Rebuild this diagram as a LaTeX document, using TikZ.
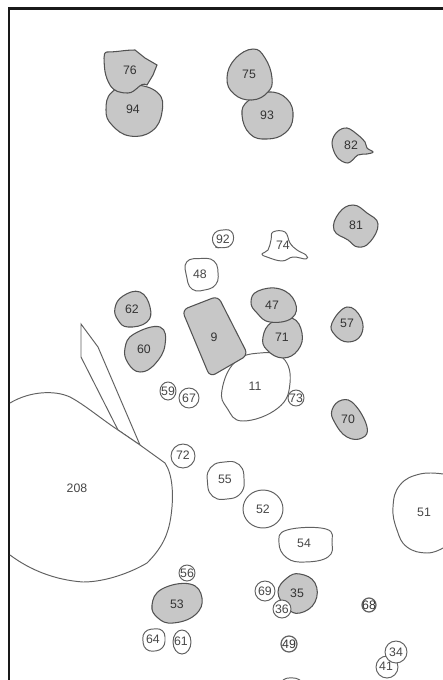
\documentclass[tikz,border=0pt]{standalone}
\usepackage{fontspec}
\setmainfont{Liberation Sans}

\begin{document}
\begin{tikzpicture}[
  x=0.02cm, y=-0.02cm,
  font=\fontsize{7}{8}\selectfont,
  shaded/.style={draw=black!68, fill=black!22, line width=0.6pt},
  plainblob/.style={draw=black!62, fill=white, line width=0.55pt},
  num/.style={inner sep=0pt, text=black!72},
  numdark/.style={inner sep=0pt, text=black!80}
]
\useasboundingbox (0,0) rectangle (443,680);

% frame, open to the right and below
\draw[line width=1.7pt, black!90] (9,680) -- (9,8.5) -- (443,8.5);

% top row of grey patches
\draw[shaded] plot[smooth cycle, tension=.75] coordinates {(134,85) (158,93) (162,112) (152,131) (130,136) (112,125) (106,110) (112,92)};
\draw[shaded] (107,52) to[out=0,in=180] (135,50) -- (145,58) -- (157,65) -- (153,75) -- (147,85) to[out=150,in=0] (128,93) to[out=180,in=-60] (110,85) to[out=120,in=-88] (104,58) to[out=90,in=180] (107,52) -- cycle;
\draw[shaded] plot[smooth cycle, tension=.75] coordinates {(268,92) (287,99) (293,117) (285,133) (267,139) (250,134) (242,115) (248,101)};
\draw[shaded] plot[smooth cycle, tension=.75] coordinates {(253,49) (265,58) (272,78) (268,92) (252,100) (234,94) (227,78) (235,59)};
\draw[shaded] plot[smooth cycle, tension=.6] coordinates {(332,143) (337,132) (347,128) (358,135) (365,142) (367,148) (373,152) (367,154) (358,155) (348,163) (337,157)};
\draw[shaded] plot[smooth cycle, tension=.75] coordinates {(353,205) (367,213) (378,224) (370,242) (358,247) (348,240) (334,230) (339,213)};

\node[numdark] (n76) at (130,70) {76};
\node[numdark] (n94) at (133,109) {94};
\node[numdark] (n75) at (249,74) {75};
\node[numdark] (n93) at (267,115) {93};
\node[numdark] (n82) at (351,145) {82};
\node[numdark] (n81) at (356,225) {81};

% small outlines around the middle
\draw[plainblob, rounded corners=4pt] (213,231) -- (233,229) -- (234,245) -- (222,249) -- (212,246) -- cycle;
\draw[plainblob] plot[smooth cycle, tension=.7] coordinates {(273,232) (285,232) (290,243) (297,250) (306,255) (306,259) (293,257) (282,261) (267,257) (262,254) (268,250) (271,240)};
\draw[plainblob, rounded corners=6pt] (183,259) -- (217,258) -- (219,287) -- (190,293) -- cycle;
\node[num] (n92) at (223,239) {92};
\node[num] (n74) at (283,245) {74};
\node[num] (n48) at (200,274) {48};

% grey patches on the left and the block
\draw[shaded] plot[smooth cycle, tension=.75] coordinates {(115,308) (123,296) (140,292) (150,307) (147,322) (128,327) (118,320)};
\draw[shaded] plot[smooth cycle, tension=.75] coordinates {(125,348) (134,334) (160,327) (165,345) (155,364) (140,372) (128,363)};
\node[numdark] (n62) at (132,309) {62};
\node[numdark] (n60) at (144,349) {60};

% big white patch goes under the block and 71
\draw[plainblob] plot[smooth cycle, tension=.75] coordinates {(260,353) (283,358) (290,383) (278,408) (243,421) (227,408) (222,390) (235,362)};
\draw[shaded, rounded corners=3.5pt] (182,310) -- (218,296) -- (248,355) -- (210,377) -- cycle;
\draw[shaded] plot[smooth cycle, tension=.75] coordinates {(263,337) (272,322) (292,318) (302,333) (298,350) (283,358) (267,350)};
\draw[shaded] plot[smooth cycle, tension=.75] coordinates {(251,302) (258,291) (280,289) (295,302) (292,318) (270,322) (257,313)};
\node[numdark] (n9) at (214,337) {9};
\node[num] (n11) at (255,386) {11};
\node[numdark] (n47) at (272,305) {47};
\node[numdark] (n71) at (282,337) {71};

% right column
\draw[shaded] plot[smooth cycle, tension=.75] coordinates {(332,323) (347,307) (361,318) (361,335) (348,342) (335,335)};
\draw[shaded] plot[smooth cycle, tension=.75] coordinates {(332,410) (342,400) (355,405) (367,427) (362,438) (347,437) (335,423)};
\node[numdark] (n57) at (347,323) {57};
\node[numdark] (n70) at (348,419) {70};

% rings near the big patch
\draw[plainblob] (168,391) circle [x radius=8, y radius=9];
\draw[plainblob] (189,398) circle [radius=10];
\draw[plainblob] (296,398) circle [radius=8];
\draw[plainblob] (183,456) circle [radius=12];
\node[num] (n59) at (168,391) {59};
\node[num] (n67) at (189,398) {67};
\node[num] (n73) at (296,398) {73};
\node[num] (n72) at (183,455) {72};

% the wedge and the large outline on the left edge
\draw[plainblob] (81,324) -- (98,347) -- (140,445) -- (118,430) -- (81,357) -- cycle;
\draw[plainblob] (10,403) .. controls (30,391) and (55,390) .. (70,397) .. controls (85,405) and (100,418) .. (118,430) -- (140,445) -- (165,463) .. controls (173,475) and (173,495) .. (172,507) .. controls (170,530) and (165,545) .. (147,563) .. controls (130,573) and (105,582) .. (83,582) .. controls (55,580) and (30,570) .. (10,555);
\node[num] (n208) at (77,488) {208};

% white patches, lower middle
\draw[plainblob, rounded corners=8pt] (206,464) -- (243,460) -- (245,497) -- (209,501) -- cycle;
\draw[plainblob] (263,509) circle [x radius=20, y radius=19];
\draw[plainblob] plot[smooth cycle, tension=.75] coordinates {(279,543) (287,530) (326,529) (332,543) (328,557) (305,562) (287,558)};
\draw[plainblob] plot[smooth, tension=.75] coordinates {(443,474) (420,474) (400,485) (393,507) (397,530) (407,547) (427,553) (443,548)};
\node[num] (n55) at (225,479) {55};
\node[num] (n52) at (263,509) {52};
\node[num] (n54) at (304,543) {54};
\node[num] (n51) at (424,512) {51};

% bottom group
\draw[plainblob] (187,573) circle [radius=8];
\draw[shaded] plot[smooth cycle, tension=.75] coordinates {(152,605) (162,589) (190,584) (202,598) (195,615) (173,623) (158,618)};
\draw[shaded] plot[smooth cycle, tension=.75] coordinates {(278,592) (287,578) (300,574) (315,583) (315,602) (300,613) (287,608)};
\draw[plainblob] (265,591) circle [radius=10];
\draw[plainblob] (282,609) circle [radius=9];
\draw[plainblob, line width=.7pt] (369,605) circle [radius=7];
\draw[plainblob, rounded corners=5pt] (142,630) -- (165,628) -- (165,650) -- (144,652) -- cycle;
\draw[plainblob] (182,642) circle [x radius=9, y radius=12];
\draw[plainblob, line width=.7pt] (289,644) circle [radius=8];
\draw[plainblob] (387,667) circle [radius=11];
\draw[plainblob] (396,652) circle [radius=11];
\draw[plainblob] (283,680) .. controls (286,677) and (296,677) .. (300,680);
\node[num] (n56) at (187,573) {56};
\node[numdark] (n53) at (177,604) {53};
\node[num] (n69) at (265,591) {69};
\node[numdark] (n35) at (297,593) {35};
\node[num] (n36) at (282,609) {36};
\node[numdark] (n68) at (369,605) {68};
\node[num] (n64) at (153,639) {64};
\node[num] (n61) at (181,641) {61};
\node[numdark] (n49) at (289,644) {49};
\node[num] (n34) at (396,652) {34};
\node[num] (n41) at (386,666) {41};

\end{tikzpicture}
\end{document}
